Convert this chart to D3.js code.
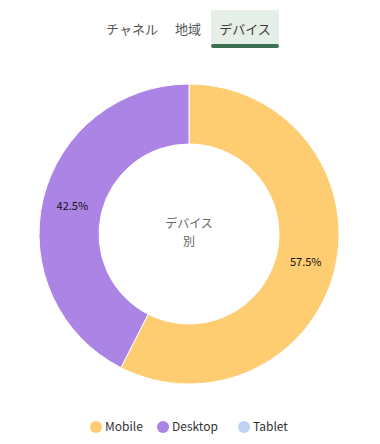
<!DOCTYPE html>
<html>
<head>
<meta charset="utf-8">
<script src="https://cdn.jsdelivr.net/npm/d3@7"></script>
<style>
  html, body { margin: 0; padding: 0; background: #fff; }
  body { width: 380px; height: 444px; overflow: hidden; font-family: "Noto Sans CJK JP", "Noto Sans", sans-serif; }
  text { font-family: "Noto Sans CJK JP", "Noto Sans", sans-serif; }
</style>
</head>
<body>
<svg id="chart" width="380" height="444"></svg>
<script>
// tabs, slices, legend
const tabs = ["チャネル", "地域", "デバイス"];
const activeTab = "デバイス";
const devices = ["Mobile", "Desktop", "Tablet"];
const shares = [57.5, 42.5, 0];
const colors = ["#fecd72", "#ab84e6", "#bed2f6"];
const centerLines = ["デバイス", "別"];

const W = 380;
const CX = 189, CY = 234;
const R_OUT = 150, R_IN = 90;

const svg = d3.select("#chart");

// ---- tab strip ----
const tabX = [132, 188, 245];
const gTabs = svg.append("g");
tabs.forEach((t, i) => {
  const active = t === activeTab;
  if (active) {
    gTabs.append("rect")
      .attr("x", 211).attr("y", 10).attr("width", 68).attr("height", 36)
      .attr("fill", "#e6eee8");
    gTabs.append("rect")
      .attr("x", 211).attr("y", 44).attr("width", 68).attr("height", 4)
      .attr("rx", 2).attr("fill", "#3f6f51");
  }
  gTabs.append("text")
    .attr("x", tabX[i]).attr("y", 34)
    .attr("text-anchor", "middle")
    .attr("font-size", 13)
    .attr("fill", active ? "#3a3a3a" : "#555")
    .text(t);
});

// ---- donut ----
const pie = d3.pie().sort(null).value((d) => d.v);
const data = devices.map((k, i) => ({ k, v: shares[i], c: colors[i] }));
const arcs = pie(data);
const arc = d3.arc().innerRadius(R_IN).outerRadius(R_OUT);
const labelArc = d3.arc().innerRadius(120).outerRadius(120);

const g = svg.append("g").attr("transform", `translate(${CX},${CY})`);
g.selectAll("path")
  .data(arcs.filter((a) => a.data.v > 0))
  .join("path")
  .attr("d", arc)
  .attr("fill", (d) => d.data.c)
  .attr("stroke", "#fff")
  .attr("stroke-width", 1);

g.selectAll("text.pct")
  .data(arcs.filter((a) => a.data.v > 0))
  .join("text")
  .attr("class", "pct")
  .attr("transform", (d) => `translate(${labelArc.centroid(d)})`)
  .attr("text-anchor", "middle")
  .attr("dy", "0.35em")
  .attr("font-size", 11)
  .attr("font-family", "Roboto, sans-serif")
  .attr("fill", "#111")
  .text((d) => d.data.v.toFixed(1) + "%");

g.selectAll("text.center")
  .data(centerLines)
  .join("text")
  .attr("class", "center")
  .attr("text-anchor", "middle")
  .attr("y", (d, i) => -6 + i * 18)
  .attr("font-size", 12)
  .attr("fill", "#666")
  .text((d) => d);

// ---- legend ----
const legX = [96, 163, 244];
const gLeg = svg.append("g").attr("transform", "translate(0,427)");
devices.forEach((k, i) => {
  gLeg.append("circle").attr("cx", legX[i]).attr("cy", 0).attr("r", 6).attr("fill", colors[i]);
  gLeg.append("text")
    .attr("x", legX[i] + 9).attr("y", 0).attr("dy", "0.35em")
    .attr("font-size", 12)
    .attr("font-family", "Inter, Roboto, sans-serif")
    .attr("fill", "#333")
    .text(k);
});
</script>
</body>
</html>
